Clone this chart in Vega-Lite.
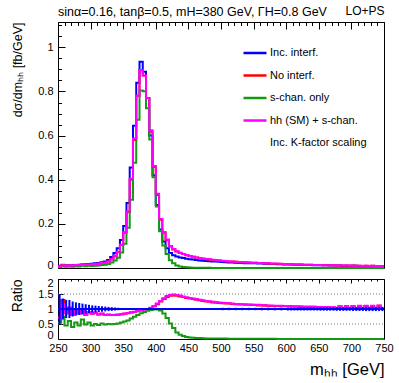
{
"$schema": "https://vega.github.io/schema/vega-lite/v6.json",
"padding": {"left": 9, "top": 3, "right": 5, "bottom": 5},
"config": {
  "font": "Liberation Sans",
  "view": {"stroke": "black", "strokeWidth": 1},
  "axis": {"labelFont": "Liberation Sans", "titleFont": "Liberation Sans", "labelColor": "black", "titleColor": "black", "titleFontWeight": "normal", "labelFontSize": 11, "domain": false, "ticks": false, "grid": true, "gridColor": "black", "gridOpacity": 1, "gridWidth": 1, "labelOverlap": false, "labelFlush": false}
},
"datasets": {
"h": [
{"m":250,"inc":0.010,"noi":0.0072,"sch":0.0055,"hhs":0.0070,"rn":0.72,"rs":0.55,"rh":0.70},
{"m":255,"inc":0.011,"noi":0.0143,"sch":0.0083,"hhs":0.0127,"rn":1.30,"rs":0.75,"rh":1.15},
{"m":260,"inc":0.012,"noi":0.0106,"sch":0.0054,"hhs":0.0102,"rn":0.88,"rs":0.45,"rh":0.85},
{"m":265,"inc":0.012,"noi":0.0120,"sch":0.0072,"hhs":0.0126,"rn":1.00,"rs":0.60,"rh":1.05},
{"m":270,"inc":0.013,"noi":0.0111,"sch":0.0052,"hhs":0.0104,"rn":0.85,"rs":0.40,"rh":0.80},
{"m":275,"inc":0.014,"noi":0.0129,"sch":0.0077,"hhs":0.0133,"rn":0.92,"rs":0.55,"rh":0.95},
{"m":280,"inc":0.015,"noi":0.0128,"sch":0.0068,"hhs":0.0128,"rn":0.85,"rs":0.45,"rh":0.85},
{"m":285,"inc":0.016,"noi":0.0152,"sch":0.0104,"hhs":0.0152,"rn":0.95,"rs":0.65,"rh":0.95},
{"m":290,"inc":0.017,"noi":0.0139,"sch":0.0082,"hhs":0.0136,"rn":0.82,"rs":0.48,"rh":0.80},
{"m":295,"inc":0.018,"noi":0.0162,"sch":0.0099,"hhs":0.0162,"rn":0.90,"rs":0.55,"rh":0.90},
{"m":300,"inc":0.019,"noi":0.0160,"sch":0.0086,"hhs":0.0162,"rn":0.84,"rs":0.45,"rh":0.85},
{"m":305,"inc":0.021,"noi":0.0183,"sch":0.0105,"hhs":0.0185,"rn":0.87,"rs":0.50,"rh":0.88},
{"m":310,"inc":0.023,"noi":0.0189,"sch":0.0108,"hhs":0.0189,"rn":0.82,"rs":0.47,"rh":0.82},
{"m":315,"inc":0.026,"noi":0.0218,"sch":0.0135,"hhs":0.0221,"rn":0.84,"rs":0.52,"rh":0.85},
{"m":320,"inc":0.030,"noi":0.0240,"sch":0.0144,"hhs":0.0240,"rn":0.80,"rs":0.48,"rh":0.80},
{"m":325,"inc":0.036,"noi":0.0292,"sch":0.0180,"hhs":0.0295,"rn":0.81,"rs":0.50,"rh":0.82},
{"m":330,"inc":0.050,"noi":0.0400,"sch":0.0245,"hhs":0.0400,"rn":0.80,"rs":0.49,"rh":0.80},
{"m":335,"inc":0.068,"noi":0.0544,"sch":0.0340,"hhs":0.0551,"rn":0.80,"rs":0.50,"rh":0.81},
{"m":340,"inc":0.090,"noi":0.0729,"sch":0.0468,"hhs":0.0738,"rn":0.81,"rs":0.52,"rh":0.82},
{"m":345,"inc":0.127,"noi":0.1041,"sch":0.0699,"hhs":0.1054,"rn":0.82,"rs":0.55,"rh":0.83},
{"m":350,"inc":0.190,"noi":0.1596,"sch":0.1102,"hhs":0.1615,"rn":0.84,"rs":0.58,"rh":0.85},
{"m":355,"inc":0.295,"noi":0.2537,"sch":0.1829,"hhs":0.2567,"rn":0.86,"rs":0.62,"rh":0.87},
{"m":360,"inc":0.455,"noi":0.4004,"sch":0.3094,"hhs":0.4050,"rn":0.88,"rs":0.68,"rh":0.89},
{"m":365,"inc":0.645,"noi":0.5805,"sch":0.4773,"hhs":0.5870,"rn":0.90,"rs":0.74,"rh":0.91},
{"m":370,"inc":0.840,"noi":0.7812,"sch":0.6720,"hhs":0.7812,"rn":0.93,"rs":0.80,"rh":0.93},
{"m":375,"inc":0.935,"noi":0.8976,"sch":0.8041,"hhs":0.8976,"rn":0.96,"rs":0.86,"rh":0.96},
{"m":380,"inc":0.890,"noi":0.8722,"sch":0.8010,"hhs":0.8722,"rn":0.98,"rs":0.90,"rh":0.98},
{"m":385,"inc":0.770,"noi":0.7700,"sch":0.7238,"hhs":0.7700,"rn":1.00,"rs":0.94,"rh":1.00},
{"m":390,"inc":0.600,"noi":0.6180,"sch":0.5820,"hhs":0.6240,"rn":1.03,"rs":0.97,"rh":1.04},
{"m":395,"inc":0.420,"noi":0.4578,"sch":0.4116,"hhs":0.4620,"rn":1.09,"rs":0.98,"rh":1.10},
{"m":400,"inc":0.285,"noi":0.3306,"sch":0.2793,"hhs":0.3363,"rn":1.16,"rs":0.98,"rh":1.18},
{"m":405,"inc":0.175,"noi":0.2188,"sch":0.1663,"hhs":0.2223,"rn":1.25,"rs":0.95,"rh":1.27},
{"m":410,"inc":0.120,"noi":0.1596,"sch":0.1020,"hhs":0.1632,"rn":1.33,"rs":0.85,"rh":1.36},
{"m":415,"inc":0.090,"noi":0.1260,"sch":0.0630,"hhs":0.1287,"rn":1.40,"rs":0.70,"rh":1.43},
{"m":420,"inc":0.068,"noi":0.0979,"sch":0.0354,"hhs":0.1000,"rn":1.44,"rs":0.52,"rh":1.47},
{"m":425,"inc":0.058,"noi":0.0841,"sch":0.0215,"hhs":0.0858,"rn":1.45,"rs":0.37,"rh":1.48},
{"m":430,"inc":0.052,"noi":0.0749,"sch":0.0114,"hhs":0.0764,"rn":1.44,"rs":0.22,"rh":1.47},
{"m":435,"inc":0.048,"noi":0.0682,"sch":0.0067,"hhs":0.0696,"rn":1.42,"rs":0.14,"rh":1.45},
{"m":440,"inc":0.045,"noi":0.0630,"sch":0.0045,"hhs":0.0639,"rn":1.40,"rs":0.10,"rh":1.42},
{"m":445,"inc":0.042,"noi":0.0575,"sch":0.0029,"hhs":0.0584,"rn":1.37,"rs":0.07,"rh":1.39},
{"m":450,"inc":0.040,"noi":0.0540,"sch":0.0020,"hhs":0.0548,"rn":1.35,"rs":0.05,"rh":1.37},
{"m":455,"inc":0.038,"noi":0.0505,"sch":0.0015,"hhs":0.0513,"rn":1.33,"rs":0.04,"rh":1.35},
{"m":460,"inc":0.036,"noi":0.0472,"sch":0.0013,"hhs":0.0479,"rn":1.31,"rs":0.035,"rh":1.33},
{"m":465,"inc":0.034,"noi":0.0439,"sch":0.0010,"hhs":0.0445,"rn":1.29,"rs":0.03,"rh":1.31},
{"m":470,"inc":0.033,"noi":0.0419,"sch":0.0008,"hhs":0.0426,"rn":1.27,"rs":0.025,"rh":1.29},
{"m":475,"inc":0.032,"noi":0.0400,"sch":0.0006,"hhs":0.0406,"rn":1.25,"rs":0.02,"rh":1.27},
{"m":480,"inc":0.031,"noi":0.0384,"sch":0.0006,"hhs":0.0391,"rn":1.24,"rs":0.02,"rh":1.26},
{"m":485,"inc":0.030,"noi":0.0366,"sch":0.0005,"hhs":0.0372,"rn":1.22,"rs":0.018,"rh":1.24},
{"m":490,"inc":0.029,"noi":0.0351,"sch":0.0005,"hhs":0.0357,"rn":1.21,"rs":0.016,"rh":1.23},
{"m":495,"inc":0.028,"noi":0.0336,"sch":0.0004,"hhs":0.0342,"rn":1.20,"rs":0.015,"rh":1.22},
{"m":500,"inc":0.027,"noi":0.0321,"sch":0.0004,"hhs":0.0327,"rn":1.19,"rs":0.014,"rh":1.21},
{"m":505,"inc":0.026,"noi":0.0307,"sch":0.0003,"hhs":0.0312,"rn":1.18,"rs":0.013,"rh":1.20},
{"m":510,"inc":0.025,"noi":0.0295,"sch":0.0003,"hhs":0.0298,"rn":1.18,"rs":0.012,"rh":1.19},
{"m":515,"inc":0.025,"noi":0.0293,"sch":0.0003,"hhs":0.0295,"rn":1.17,"rs":0.011,"rh":1.18},
{"m":520,"inc":0.024,"noi":0.0278,"sch":0.0002,"hhs":0.0281,"rn":1.16,"rs":0.010,"rh":1.17},
{"m":525,"inc":0.023,"noi":0.0265,"sch":0.0002,"hhs":0.0269,"rn":1.15,"rs":0.010,"rh":1.17},
{"m":530,"inc":0.023,"noi":0.0265,"sch":0.0002,"hhs":0.0267,"rn":1.15,"rs":0.009,"rh":1.16},
{"m":535,"inc":0.022,"noi":0.0251,"sch":0.0002,"hhs":0.0255,"rn":1.14,"rs":0.008,"rh":1.16},
{"m":540,"inc":0.022,"noi":0.0251,"sch":0.0002,"hhs":0.0253,"rn":1.14,"rs":0.008,"rh":1.15},
{"m":545,"inc":0.021,"noi":0.0237,"sch":0.0001,"hhs":0.0242,"rn":1.13,"rs":0.007,"rh":1.15},
{"m":550,"inc":0.021,"noi":0.0237,"sch":0.0001,"hhs":0.0239,"rn":1.13,"rs":0.007,"rh":1.14},
{"m":555,"inc":0.020,"noi":0.0224,"sch":0.0001,"hhs":0.0228,"rn":1.12,"rs":0.006,"rh":1.14},
{"m":560,"inc":0.020,"noi":0.0224,"sch":0.0001,"hhs":0.0226,"rn":1.12,"rs":0.006,"rh":1.13},
{"m":565,"inc":0.019,"noi":0.0211,"sch":0.0001,"hhs":0.0215,"rn":1.11,"rs":0.006,"rh":1.13},
{"m":570,"inc":0.019,"noi":0.0211,"sch":0.0001,"hhs":0.0213,"rn":1.11,"rs":0.005,"rh":1.12},
{"m":575,"inc":0.018,"noi":0.0198,"sch":0.0001,"hhs":0.0202,"rn":1.10,"rs":0.005,"rh":1.12},
{"m":580,"inc":0.018,"noi":0.0198,"sch":0.0001,"hhs":0.0200,"rn":1.10,"rs":0.005,"rh":1.11},
{"m":585,"inc":0.017,"noi":0.0187,"sch":0.0001,"hhs":0.0189,"rn":1.10,"rs":0.004,"rh":1.11},
{"m":590,"inc":0.017,"noi":0.0185,"sch":0.0001,"hhs":0.0189,"rn":1.09,"rs":0.004,"rh":1.11},
{"m":595,"inc":0.016,"noi":0.0174,"sch":0.0001,"hhs":0.0176,"rn":1.09,"rs":0.004,"rh":1.10},
{"m":600,"inc":0.016,"noi":0.0174,"sch":0.0001,"hhs":0.0176,"rn":1.09,"rs":0.004,"rh":1.10},
{"m":605,"inc":0.0155,"noi":0.0167,"sch":0,"hhs":0.0171,"rn":1.08,"rs":0.003,"rh":1.10},
{"m":610,"inc":0.015,"noi":0.0162,"sch":0,"hhs":0.0164,"rn":1.08,"rs":0.003,"rh":1.09},
{"m":615,"inc":0.015,"noi":0.0162,"sch":0,"hhs":0.0164,"rn":1.08,"rs":0.003,"rh":1.09},
{"m":620,"inc":0.0145,"noi":0.0155,"sch":0,"hhs":0.0158,"rn":1.07,"rs":0.003,"rh":1.09},
{"m":625,"inc":0.014,"noi":0.0150,"sch":0,"hhs":0.0151,"rn":1.07,"rs":0.003,"rh":1.08},
{"m":630,"inc":0.014,"noi":0.0150,"sch":0,"hhs":0.0151,"rn":1.07,"rs":0.002,"rh":1.08},
{"m":635,"inc":0.0135,"noi":0.0144,"sch":0,"hhs":0.0146,"rn":1.07,"rs":0.002,"rh":1.08},
{"m":640,"inc":0.013,"noi":0.0138,"sch":0,"hhs":0.0140,"rn":1.06,"rs":0.002,"rh":1.08},
{"m":645,"inc":0.013,"noi":0.0138,"sch":0,"hhs":0.0139,"rn":1.06,"rs":0.002,"rh":1.07},
{"m":650,"inc":0.0125,"noi":0.0133,"sch":0,"hhs":0.0134,"rn":1.06,"rs":0.002,"rh":1.07},
{"m":655,"inc":0.012,"noi":0.0127,"sch":0,"hhs":0.0128,"rn":1.06,"rs":0.002,"rh":1.07},
{"m":660,"inc":0.012,"noi":0.0126,"sch":0,"hhs":0.0128,"rn":1.05,"rs":0.002,"rh":1.07},
{"m":665,"inc":0.0115,"noi":0.0121,"sch":0,"hhs":0.0122,"rn":1.05,"rs":0.002,"rh":1.06},
{"m":670,"inc":0.0115,"noi":0.0121,"sch":0,"hhs":0.0122,"rn":1.05,"rs":0.001,"rh":1.06},
{"m":675,"inc":0.011,"noi":0.0112,"sch":0,"hhs":0.0113,"rn":1.02,"rs":0.001,"rh":1.03},
{"m":680,"inc":0.011,"noi":0.0119,"sch":0,"hhs":0.0120,"rn":1.08,"rs":0.001,"rh":1.09},
{"m":685,"inc":0.0105,"noi":0.0107,"sch":0,"hhs":0.0108,"rn":1.02,"rs":0.001,"rh":1.03},
{"m":690,"inc":0.0105,"noi":0.0114,"sch":0,"hhs":0.0116,"rn":1.09,"rs":0.001,"rh":1.10},
{"m":695,"inc":0.010,"noi":0.0102,"sch":0,"hhs":0.0102,"rn":1.02,"rs":0.001,"rh":1.02},
{"m":700,"inc":0.010,"noi":0.0109,"sch":0,"hhs":0.0110,"rn":1.09,"rs":0.001,"rh":1.10},
{"m":705,"inc":0.0098,"noi":0.0099,"sch":0,"hhs":0.0100,"rn":1.01,"rs":0.001,"rh":1.02},
{"m":710,"inc":0.0096,"noi":0.0106,"sch":0,"hhs":0.0107,"rn":1.10,"rs":0.001,"rh":1.11},
{"m":715,"inc":0.0094,"noi":0.0095,"sch":0,"hhs":0.0096,"rn":1.01,"rs":0.001,"rh":1.02},
{"m":720,"inc":0.0092,"noi":0.0101,"sch":0,"hhs":0.0102,"rn":1.10,"rs":0.001,"rh":1.11},
{"m":725,"inc":0.009,"noi":0.0090,"sch":0,"hhs":0.0091,"rn":1.00,"rs":0.001,"rh":1.01},
{"m":730,"inc":0.0088,"noi":0.0097,"sch":0,"hhs":0.0098,"rn":1.10,"rs":0.001,"rh":1.11},
{"m":735,"inc":0.0086,"noi":0.0086,"sch":0,"hhs":0.0087,"rn":1.00,"rs":0.001,"rh":1.01},
{"m":740,"inc":0.0084,"noi":0.0093,"sch":0,"hhs":0.0094,"rn":1.11,"rs":0.001,"rh":1.12},
{"m":745,"inc":0.0082,"noi":0.0083,"sch":0,"hhs":0.0084,"rn":1.01,"rs":0.001,"rh":1.02},
{"m":750,"inc":0.0082,"noi":0.0083,"sch":0,"hhs":0.0084,"rn":1.01,"rs":0.001,"rh":1.02}
],
"e": [
{"c":252.5,"lo":0.50,"hi":1.50},{"c":257.5,"lo":0.65,"hi":1.35},{"c":262.5,"lo":0.70,"hi":1.30},{"c":267.5,"lo":0.70,"hi":1.30},
{"c":272.5,"lo":0.75,"hi":1.25},{"c":277.5,"lo":0.78,"hi":1.22},{"c":282.5,"lo":0.80,"hi":1.20},{"c":287.5,"lo":0.82,"hi":1.18},
{"c":292.5,"lo":0.84,"hi":1.16},{"c":297.5,"lo":0.86,"hi":1.14},{"c":302.5,"lo":0.88,"hi":1.12},{"c":307.5,"lo":0.89,"hi":1.11},
{"c":312.5,"lo":0.90,"hi":1.10},{"c":317.5,"lo":0.91,"hi":1.09},{"c":322.5,"lo":0.92,"hi":1.08},{"c":327.5,"lo":0.93,"hi":1.07},
{"c":332.5,"lo":0.94,"hi":1.06},{"c":337.5,"lo":0.95,"hi":1.05},{"c":342.5,"lo":0.96,"hi":1.04},{"c":347.5,"lo":0.965,"hi":1.035},
{"c":502.5,"lo":0.96,"hi":1.04},{"c":512.5,"lo":0.96,"hi":1.04},{"c":522.5,"lo":0.96,"hi":1.04},{"c":532.5,"lo":0.96,"hi":1.04},
{"c":542.5,"lo":0.96,"hi":1.04},{"c":552.5,"lo":0.96,"hi":1.04},{"c":562.5,"lo":0.955,"hi":1.045},{"c":572.5,"lo":0.955,"hi":1.045},
{"c":582.5,"lo":0.955,"hi":1.045},{"c":592.5,"lo":0.955,"hi":1.045},{"c":602.5,"lo":0.95,"hi":1.05},{"c":607.5,"lo":0.95,"hi":1.05},
{"c":612.5,"lo":0.95,"hi":1.05},{"c":617.5,"lo":0.95,"hi":1.05},{"c":622.5,"lo":0.95,"hi":1.05},{"c":627.5,"lo":0.95,"hi":1.05},
{"c":632.5,"lo":0.95,"hi":1.05},{"c":637.5,"lo":0.95,"hi":1.05},{"c":642.5,"lo":0.95,"hi":1.05},{"c":647.5,"lo":0.95,"hi":1.05},
{"c":652.5,"lo":0.945,"hi":1.055},{"c":657.5,"lo":0.945,"hi":1.055},{"c":662.5,"lo":0.945,"hi":1.055},{"c":667.5,"lo":0.945,"hi":1.055},
{"c":672.5,"lo":0.945,"hi":1.055},{"c":677.5,"lo":0.94,"hi":1.06},{"c":682.5,"lo":0.94,"hi":1.06},{"c":687.5,"lo":0.94,"hi":1.06},
{"c":692.5,"lo":0.94,"hi":1.06},{"c":697.5,"lo":0.94,"hi":1.06},{"c":702.5,"lo":0.935,"hi":1.065},{"c":707.5,"lo":0.935,"hi":1.065},
{"c":712.5,"lo":0.935,"hi":1.065},{"c":717.5,"lo":0.935,"hi":1.065},{"c":722.5,"lo":0.93,"hi":1.07},{"c":727.5,"lo":0.93,"hi":1.07},
{"c":732.5,"lo":0.93,"hi":1.07},{"c":737.5,"lo":0.93,"hi":1.07},{"c":742.5,"lo":0.93,"hi":1.07},{"c":747.5,"lo":0.93,"hi":1.07}
],
"g": [{"a":250,"b":750,"g":0.5},{"a":250,"b":750,"g":1.5}],
"one": [{"a":250,"b":750,"g":1}]
},
"spacing": 3,
"vconcat": [
{
  "width": 326, "height": 246,
  "title": {"text": "sinα=0.16, tanβ=0.5, mH=380 GeV, ΓH=0.8 GeV", "anchor": "start", "frame": "group", "fontSize": 12.5, "fontWeight": "normal", "font": "Liberation Sans", "color": "black", "offset": -14},
  "data": {"name": "h"},
  "layer": [
    {"mark": {"type": "line", "interpolate": "step-after", "strokeWidth": 2},
     "encoding": {
       "x": {"field": "m", "type": "quantitative", "scale": {"domain": [250, 750], "nice": false, "zero": false},
             "axis": {"orient": "bottom", "title": null, "labels": false,
                      "values": [250,260,270,280,290,300,310,320,330,340,350,360,370,380,390,400,410,420,430,440,450,460,470,480,490,500,510,520,530,540,550,560,570,580,590,600,610,620,630,640,650,660,670,680,690,700,710,720,730,740,750],
                      "gridDash": {"condition": {"test": "datum.value % 50 === 0", "value": [7, 1000]}, "value": [3.5, 1000]}}},
       "y": {"field": "inc", "type": "quantitative", "scale": {"domain": [0, 1.115], "nice": false, "zero": false},
             "axis": {"orient": "left", "title": "dσ/dmₕₕ [fb/GeV]", "titleFontSize": 12.5, "titleAnchor": "end", "titleX": -41, "titleBaseline": "middle", "format": "~g", "labelPadding": 5,
                      "values": [0,0.05,0.1,0.15,0.2,0.25,0.3,0.35,0.4,0.45,0.5,0.55,0.6,0.65,0.7,0.75,0.8,0.85,0.9,0.95,1,1.05,1.1],
                      "labelExpr": "abs(datum.value*5-round(datum.value*5))<0.001 ? datum.label : ''",
                      "labelOffset": {"condition": {"test": "datum.value === 0", "value": -3}, "value": 0},
                      "gridDash": {"condition": {"test": "abs(datum.value*5-round(datum.value*5))<0.001", "value": [7, 1000]}, "value": [3.5, 1000]}}},
       "color": {"datum": "Inc. interf.", "type": "nominal",
                 "scale": {"domain": ["Inc. interf.", "No interf.", "s-chan. only", "hh (SM) + s-chan.", "Inc. K-factor scaling"], "range": ["#0000ff", "#ff0000", "#139a13", "#ff00ff", "rgba(0,0,0,0)"]},
                 "legend": {"title": null, "orient": "none", "legendX": 184, "legendY": 18, "padding": 0, "symbolType": "stroke", "symbolSize": 529, "symbolStrokeWidth": 2.5, "labelFontSize": 11, "labelFont": "Liberation Sans", "labelColor": "black", "labelOffset": 2, "rowPadding": 4.5, "labelLimit": 200}}
     }},
    {"mark": {"type": "line", "interpolate": "step-after", "strokeWidth": 2},
     "encoding": {
       "x": {"field": "m", "type": "quantitative",
             "axis": {"orient": "top", "title": "LO+PS", "titleFontSize": 12, "titleAnchor": "end", "titlePadding": 5, "labels": false,
                      "values": [250,260,270,280,290,300,310,320,330,340,350,360,370,380,390,400,410,420,430,440,450,460,470,480,490,500,510,520,530,540,550,560,570,580,590,600,610,620,630,640,650,660,670,680,690,700,710,720,730,740,750],
                      "gridDash": {"condition": {"test": "datum.value % 50 === 0", "value": [5, 1000]}, "value": [2.5, 1000]}}},
       "y": {"field": "noi", "type": "quantitative",
             "axis": {"orient": "right", "title": null, "labels": false,
                      "values": [0,0.05,0.1,0.15,0.2,0.25,0.3,0.35,0.4,0.45,0.5,0.55,0.6,0.65,0.7,0.75,0.8,0.85,0.9,0.95,1,1.05,1.1],
                      "gridDash": {"condition": {"test": "abs(datum.value*5-round(datum.value*5))<0.001", "value": [5, 1000]}, "value": [2.5, 1000]}}},
       "color": {"datum": "No interf.", "type": "nominal"}
     }},
    {"mark": {"type": "line", "interpolate": "step-after", "strokeWidth": 2},
     "encoding": {
       "x": {"field": "m", "type": "quantitative", "axis": null},
       "y": {"field": "sch", "type": "quantitative", "axis": null},
       "color": {"datum": "s-chan. only", "type": "nominal"}
     }},
    {"mark": {"type": "line", "interpolate": "step-after", "strokeWidth": 2},
     "encoding": {
       "x": {"field": "m", "type": "quantitative", "axis": null},
       "y": {"field": "hhs", "type": "quantitative", "axis": null},
       "color": {"datum": "hh (SM) + s-chan.", "type": "nominal"}
     }}
  ]
},
{
  "width": 326, "height": 60,
  "data": {"name": "h"},
  "layer": [
    {"mark": {"type": "line", "interpolate": "step-after", "strokeWidth": 2, "color": "#ff0000"},
     "encoding": {
       "x": {"field": "m", "type": "quantitative", "scale": {"domain": [250, 750], "nice": false, "zero": false},
             "axis": {"orient": "bottom", "title": "mₕₕ [GeV]", "titleFontSize": 16.5, "titleAnchor": "end", "titlePadding": 8, "labelPadding": 3,
                      "values": [250,260,270,280,290,300,310,320,330,340,350,360,370,380,390,400,410,420,430,440,450,460,470,480,490,500,510,520,530,540,550,560,570,580,590,600,610,620,630,640,650,660,670,680,690,700,710,720,730,740,750],
                      "labelExpr": "datum.value % 50 === 0 ? datum.label : ''",
                      "gridDash": {"condition": {"test": "datum.value % 50 === 0", "value": [4, 1000]}, "value": [2, 1000]}}},
       "y": {"field": "rn", "type": "quantitative", "scale": {"domain": [0, 2], "nice": false, "zero": false},
             "axis": {"orient": "left", "title": "Ratio", "titleFontSize": 14, "titleAnchor": "end", "titleX": -41, "titleBaseline": "middle", "format": "~g", "labelPadding": 5,
                      "labelOffset": {"condition": [{"test": "datum.value === 0", "value": -4}, {"test": "datum.value === 2", "value": 4}], "value": 0},
                      "values": [0, 0.5, 1, 1.5, 2], "gridDash": [5, 1000]}}
     }},
    {"mark": {"type": "line", "interpolate": "step-after", "strokeWidth": 2, "color": "#139a13"},
     "encoding": {
       "x": {"field": "m", "type": "quantitative",
             "axis": {"orient": "top", "title": null, "labels": false,
                      "values": [250,300,350,400,450,500,550,600,650,700,750], "gridDash": [3, 1000]}},
       "y": {"field": "rs", "type": "quantitative",
             "axis": {"orient": "right", "title": null, "labels": false, "values": [0, 0.5, 1, 1.5, 2], "gridDash": [3, 1000]}}}},
    {"data": {"name": "g"}, "mark": {"type": "rule", "strokeDash": [1, 2], "color": "#777777", "strokeWidth": 1},
     "encoding": {"x": {"field": "a", "type": "quantitative", "axis": null}, "x2": {"field": "b"}, "y": {"field": "g", "type": "quantitative", "axis": null}}},
    {"mark": {"type": "line", "interpolate": "step-after", "strokeWidth": 2, "color": "#ff00ff"},
     "encoding": {"x": {"field": "m", "type": "quantitative", "axis": null}, "y": {"field": "rh", "type": "quantitative", "axis": null}}},
    {"data": {"name": "e"}, "mark": {"type": "rule", "strokeWidth": 2, "color": "#0000ff"},
     "encoding": {"x": {"field": "c", "type": "quantitative", "axis": null}, "y": {"field": "lo", "type": "quantitative", "axis": null}, "y2": {"field": "hi"}}},
    {"data": {"name": "one"}, "mark": {"type": "rule", "strokeWidth": 2, "color": "#0000ff"},
     "encoding": {"x": {"field": "a", "type": "quantitative", "axis": null}, "x2": {"field": "b"}, "y": {"field": "g", "type": "quantitative", "axis": null}}}
  ]
}
]
}
